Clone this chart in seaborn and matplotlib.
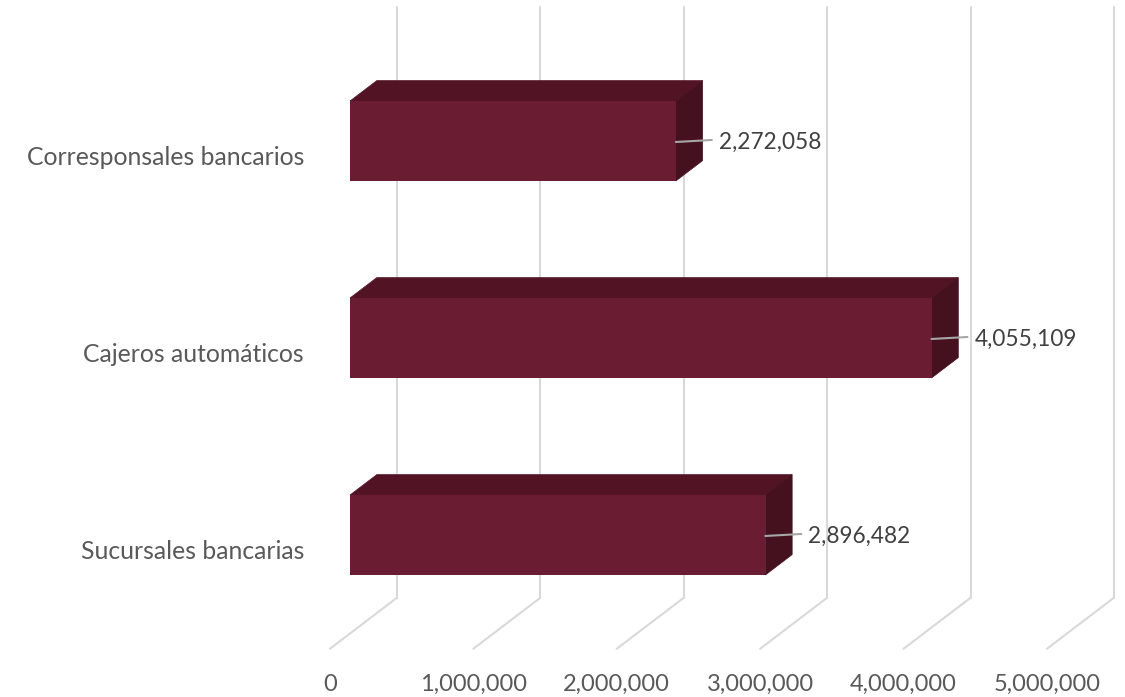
import matplotlib
matplotlib.use("Agg")
import matplotlib.pyplot as plt
from matplotlib.patches import Polygon
import seaborn as sns
import pandas as pd

# Data
categories = ["Corresponsales bancarios", "Cajeros automáticos", "Sucursales bancarias"]
values = [2272058, 4055109, 2896482]
tick_values = [0, 1000000, 2000000, 3000000, 4000000, 5000000]
tick_labels = ["0", "1,000,000", "2,000,000", "3,000,000", "4,000,000", "5,000,000"]

sns.set_theme(style="white")
plt.rcParams["font.family"] = ["Lato", "DejaVu Sans"]

W, H, DPI = 1125, 697, 100
fig = plt.figure(figsize=(W / DPI, H / DPI), dpi=DPI)
ax = fig.add_axes([0, 0, 1, 1])

# Pixel scale of the value axis and the oblique depth offsets
PX_PER_UNIT = 143.4e-6          # pixels per unit value
PX_PER_CAT = 197.0              # pixels per category step
DX = 67.0 / PX_PER_UNIT         # value-units shift per unit of depth
DY = 51.0 / PX_PER_CAT          # category-units shift (upward) per unit of depth
BAR_FRONT, BAR_BACK = 0.3, 0.7  # depth range occupied by the bars
FLOOR, WALL_TOP = 2.5, -0.5

front = "#6A1C32"
top = "#521424"
side = "#45111F"
grid_c = "#D9D9D9"

df = pd.DataFrame({"categoria": categories, "valor": values})
sns.barplot(data=df, x="valor", y="categoria", orient="y", width=80 / PX_PER_CAT,
            color=front, saturation=1, ax=ax, zorder=3, linewidth=0)

ax.set_xlim(-350 / PX_PER_UNIT, (W - 350) / PX_PER_UNIT)
ax.set_ylim((H - 141) / PX_PER_CAT, -141 / PX_PER_CAT)
ax.axis("off")


def proj(v, p, d):
    """Map (value, category position, depth) to data coordinates of the front plane."""
    return v + (d - BAR_FRONT) * DX, p - (d - BAR_FRONT) * DY


# Back wall gridlines and floor diagonals
for v in tick_values:
    ax.plot(*zip(proj(v, FLOOR, 1), proj(v, WALL_TOP, 1)), color=grid_c, lw=1.5, zorder=1)
    ax.plot(*zip(proj(v, FLOOR, 0), proj(v, FLOOR, 1)), color=grid_c, lw=1.5, zorder=1)

# Top and side faces of every bar
depth = BAR_BACK - BAR_FRONT
for patch in ax.patches[:len(values)]:
    x0, y0 = patch.get_x(), patch.get_y()
    w, h = patch.get_width(), patch.get_height()
    ddx, ddy = depth * DX, depth * DY
    ax.add_patch(Polygon([(x0, y0), (x0 + w, y0), (x0 + w + ddx, y0 - ddy), (x0 + ddx, y0 - ddy)],
                         closed=True, facecolor=top, edgecolor=top, lw=0.5, zorder=2))
    ax.add_patch(Polygon([(x0 + w, y0), (x0 + w, y0 + h), (x0 + w + ddx, y0 + h - ddy),
                          (x0 + w + ddx, y0 - ddy)],
                         closed=True, facecolor=side, edgecolor=side, lw=0.5, zorder=2))

# Value labels with leader lines
for i, v in enumerate(values):
    ax.annotate("", xy=(v, i + 0.005), xytext=(36, 2), textcoords="offset pixels",
                arrowprops=dict(arrowstyle="-", color="#A6A6A6", lw=1.5,
                                shrinkA=0, shrinkB=0), zorder=4)
    ax.annotate(f"{v:,}", xy=(v, i), xytext=(43, -8), textcoords="offset pixels",
                ha="left", va="baseline", fontsize=16.3, color="#404040", zorder=4)

# Category labels
for i, c in enumerate(categories):
    x, y = proj(0, i, 0)
    ax.annotate(c, xy=(x, y), xytext=(-26, -9), textcoords="offset pixels",
                ha="right", va="baseline", fontsize=17.8, color="#595959")

# Value-axis labels on the front edge of the floor
for v, t in zip(tick_values, tick_labels):
    x, _ = proj(v, FLOOR, 0)
    ax.text(x, (691 - 141) / PX_PER_CAT, t, ha="center", va="baseline",
            fontsize=17, color="#595959")

fig.savefig("out.png", dpi=DPI, facecolor="white")
